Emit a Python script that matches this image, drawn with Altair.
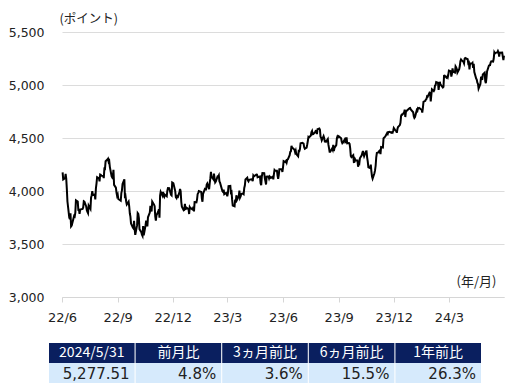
import altair as alt
import pandas as pd

# ---- daily closes ----
dates_2022 = [
    "2022-06-02","2022-06-03","2022-06-06","2022-06-07","2022-06-08","2022-06-09","2022-06-10","2022-06-13","2022-06-14","2022-06-15",
    "2022-06-16","2022-06-17","2022-06-21","2022-06-22","2022-06-23","2022-06-24","2022-06-27","2022-06-28","2022-06-29","2022-06-30",
    "2022-07-01","2022-07-05","2022-07-06","2022-07-07","2022-07-08","2022-07-11","2022-07-12","2022-07-13","2022-07-14","2022-07-15",
    "2022-07-18","2022-07-19","2022-07-20","2022-07-21","2022-07-22","2022-07-25","2022-07-26","2022-07-27","2022-07-28","2022-07-29",
    "2022-08-01","2022-08-02","2022-08-03","2022-08-04","2022-08-05","2022-08-08","2022-08-09","2022-08-10","2022-08-11","2022-08-12",
    "2022-08-15","2022-08-16","2022-08-17","2022-08-18","2022-08-19","2022-08-22","2022-08-23","2022-08-24","2022-08-25","2022-08-26",
    "2022-08-29","2022-08-30","2022-08-31","2022-09-01","2022-09-02","2022-09-06","2022-09-07","2022-09-08","2022-09-09","2022-09-12",
    "2022-09-13","2022-09-14","2022-09-15","2022-09-16","2022-09-19","2022-09-20","2022-09-21","2022-09-22","2022-09-23","2022-09-26",
    "2022-09-27","2022-09-28","2022-09-29","2022-09-30","2022-10-03","2022-10-04","2022-10-05","2022-10-06","2022-10-07","2022-10-10",
    "2022-10-11","2022-10-12","2022-10-13","2022-10-14","2022-10-17","2022-10-18","2022-10-19","2022-10-20","2022-10-21","2022-10-24",
    "2022-10-25","2022-10-26","2022-10-27","2022-10-28","2022-10-31","2022-11-01","2022-11-02","2022-11-03","2022-11-04","2022-11-07",
    "2022-11-08","2022-11-09","2022-11-10","2022-11-11","2022-11-14","2022-11-15","2022-11-16","2022-11-17","2022-11-18","2022-11-21",
    "2022-11-22","2022-11-23","2022-11-25","2022-11-28","2022-11-29","2022-11-30","2022-12-01","2022-12-02","2022-12-05","2022-12-06",
    "2022-12-07","2022-12-08","2022-12-09","2022-12-12","2022-12-13","2022-12-14","2022-12-15","2022-12-16","2022-12-19","2022-12-20",
    "2022-12-21","2022-12-22","2022-12-23","2022-12-27","2022-12-28","2022-12-29","2022-12-30",
]
closes_2022 = [
    4176, 4109, 4121, 4161, 4116, 4018, 3901, 3750, 3735, 3790,
    3667, 3675, 3765, 3760, 3796, 3912, 3900, 3821, 3819, 3785,
    3825, 3831, 3845, 3903, 3899, 3854, 3819, 3802, 3790, 3863,
    3831, 3937, 3960, 3999, 3962, 3967, 3921, 4024, 4072, 4130,
    4119, 4091, 4155, 4152, 4145, 4140, 4122, 4210, 4208, 4280,
    4297, 4305, 4275, 4284, 4228, 4138, 4128, 4141, 4199, 4058,
    4031, 3986, 3955, 3967, 3924, 3908, 3980, 4006, 4067, 4110,
    3932, 3946, 3901, 3873, 3900, 3856, 3790, 3758, 3693, 3655,
    3647, 3719, 3640, 3586, 3678, 3791, 3783, 3744, 3640, 3612,
    3589, 3577, 3670, 3583, 3677, 3720, 3695, 3666, 3752, 3797,
    3859, 3830, 3807, 3901, 3872, 3856, 3760, 3720, 3771, 3807,
    3828, 3749, 3956, 3993, 3957, 3992, 3959, 3946, 3965, 3950,
    4003, 4027, 4026, 3964, 3958, 4080, 4076, 4072, 3999, 3941,
    3933, 3963, 3934, 3991, 4019, 3996, 3896, 3852, 3818, 3822,
    3879, 3822, 3845, 3829, 3783, 3849, 3840,
]

dates_2023 = [
    "2023-01-03","2023-01-04","2023-01-05","2023-01-06","2023-01-09","2023-01-10","2023-01-11","2023-01-12","2023-01-13","2023-01-17",
    "2023-01-18","2023-01-19","2023-01-20","2023-01-23","2023-01-24","2023-01-25","2023-01-26","2023-01-27","2023-01-30","2023-01-31",
    "2023-02-01","2023-02-02","2023-02-03","2023-02-06","2023-02-07","2023-02-08","2023-02-09","2023-02-10","2023-02-13","2023-02-14",
    "2023-02-15","2023-02-16","2023-02-17","2023-02-21","2023-02-22","2023-02-23","2023-02-24","2023-02-27","2023-02-28","2023-03-01",
    "2023-03-02","2023-03-03","2023-03-06","2023-03-07","2023-03-08","2023-03-09","2023-03-10","2023-03-13","2023-03-14","2023-03-15",
    "2023-03-16","2023-03-17","2023-03-20","2023-03-21","2023-03-22","2023-03-23","2023-03-24","2023-03-27","2023-03-28","2023-03-29",
    "2023-03-30","2023-03-31","2023-04-03","2023-04-04","2023-04-05","2023-04-06","2023-04-10","2023-04-11","2023-04-12","2023-04-13",
    "2023-04-14","2023-04-17","2023-04-18","2023-04-19","2023-04-20","2023-04-21","2023-04-24","2023-04-25","2023-04-26","2023-04-27",
    "2023-04-28","2023-05-01","2023-05-02","2023-05-03","2023-05-04","2023-05-05","2023-05-08","2023-05-09","2023-05-10","2023-05-11",
    "2023-05-12","2023-05-15","2023-05-16","2023-05-17","2023-05-18","2023-05-19","2023-05-22","2023-05-23","2023-05-24","2023-05-25",
    "2023-05-26","2023-05-30","2023-05-31","2023-06-01","2023-06-02","2023-06-05","2023-06-06","2023-06-07","2023-06-08","2023-06-09",
    "2023-06-12","2023-06-13","2023-06-14","2023-06-15","2023-06-16","2023-06-20","2023-06-21","2023-06-22","2023-06-23","2023-06-26",
    "2023-06-27","2023-06-28","2023-06-29","2023-06-30","2023-07-03","2023-07-05","2023-07-06","2023-07-07","2023-07-10","2023-07-11",
    "2023-07-12","2023-07-13","2023-07-14","2023-07-17","2023-07-18","2023-07-19","2023-07-20","2023-07-21","2023-07-24","2023-07-25",
    "2023-07-26","2023-07-27","2023-07-28","2023-07-31","2023-08-01","2023-08-02","2023-08-03","2023-08-04","2023-08-07","2023-08-08",
    "2023-08-09","2023-08-10","2023-08-11","2023-08-14","2023-08-15","2023-08-16","2023-08-17","2023-08-18","2023-08-21","2023-08-22",
    "2023-08-23","2023-08-24","2023-08-25","2023-08-28","2023-08-29","2023-08-30","2023-08-31","2023-09-01","2023-09-05","2023-09-06",
    "2023-09-07","2023-09-08","2023-09-11","2023-09-12","2023-09-13","2023-09-14","2023-09-15","2023-09-18","2023-09-19","2023-09-20",
    "2023-09-21","2023-09-22","2023-09-25","2023-09-26","2023-09-27","2023-09-28","2023-09-29","2023-10-02","2023-10-03","2023-10-04",
    "2023-10-05","2023-10-06","2023-10-09","2023-10-10","2023-10-11","2023-10-12","2023-10-13","2023-10-16","2023-10-17","2023-10-18",
    "2023-10-19","2023-10-20","2023-10-23","2023-10-24","2023-10-25","2023-10-26","2023-10-27","2023-10-30","2023-10-31","2023-11-01",
    "2023-11-02","2023-11-03","2023-11-06","2023-11-07","2023-11-08","2023-11-09","2023-11-10","2023-11-13","2023-11-14","2023-11-15",
    "2023-11-16","2023-11-17","2023-11-20","2023-11-21","2023-11-22","2023-11-24","2023-11-27","2023-11-28","2023-11-29","2023-11-30",
    "2023-12-01","2023-12-04","2023-12-05","2023-12-06","2023-12-07","2023-12-08","2023-12-11","2023-12-12","2023-12-13","2023-12-14",
    "2023-12-15","2023-12-18","2023-12-19","2023-12-20","2023-12-21","2023-12-22","2023-12-26","2023-12-27","2023-12-28","2023-12-29",
]
closes_2023 = [
    3825, 3853, 3808, 3895, 3893, 3919, 3970, 3983, 3999, 3991,
    3929, 3899, 3972, 4020, 4017, 4016, 4060, 4071, 4018, 4077,
    4119, 4180, 4136, 4111, 4164, 4118, 4082, 4090, 4137, 4136,
    4148, 4090, 4079, 3997, 3991, 4012, 3970, 3982, 3970, 3951,
    3981, 4046, 4048, 3986, 3992, 3918, 3862, 3855, 3920, 3892,
    3960, 3917, 3951, 4003, 3937, 3949, 3971, 3977, 3971, 4028,
    4051, 4109, 4125, 4100, 4091, 4105, 4110, 4109, 4092, 4146,
    4138, 4151, 4155, 4154, 4130, 4133, 4137, 4072, 4056, 4136,
    4169, 4168, 4120, 4091, 4061, 4136, 4138, 4119, 4137, 4130,
    4124, 4136, 4110, 4159, 4198, 4192, 4192, 4146, 4115, 4151,
    4205, 4206, 4180, 4221, 4282, 4273, 4283, 4268, 4294, 4299,
    4338, 4369, 4373, 4426, 4410, 4389, 4366, 4381, 4348, 4328,
    4378, 4377, 4396, 4450, 4455, 4447, 4412, 4399, 4410, 4439,
    4472, 4510, 4505, 4523, 4555, 4566, 4535, 4536, 4555, 4567,
    4566, 4537, 4582, 4589, 4577, 4513, 4502, 4478, 4518, 4499,
    4468, 4469, 4464, 4490, 4437, 4404, 4370, 4370, 4400, 4388,
    4436, 4376, 4406, 4433, 4497, 4515, 4508, 4516, 4497, 4465,
    4451, 4457, 4487, 4462, 4467, 4505, 4450, 4453, 4444, 4402,
    4330, 4320, 4337, 4274, 4275, 4300, 4288, 4288, 4229, 4263,
    4258, 4308, 4336, 4358, 4377, 4350, 4328, 4373, 4374, 4315,
    4278, 4224, 4217, 4248, 4186, 4137, 4117, 4167, 4194, 4238,
    4318, 4358, 4366, 4378, 4383, 4347, 4415, 4411, 4496, 4502,
    4508, 4514, 4547, 4538, 4556, 4559, 4550, 4555, 4551, 4568,
    4595, 4569, 4567, 4549, 4585, 4604, 4622, 4644, 4707, 4720,
    4719, 4741, 4768, 4698, 4746, 4755, 4775, 4781, 4783, 4770,
]

dates_2024 = [
    "2024-01-02","2024-01-03","2024-01-04","2024-01-05","2024-01-08","2024-01-09","2024-01-10","2024-01-11","2024-01-12","2024-01-16",
    "2024-01-17","2024-01-18","2024-01-19","2024-01-22","2024-01-23","2024-01-24","2024-01-25","2024-01-26","2024-01-29","2024-01-30",
    "2024-01-31","2024-02-01","2024-02-02","2024-02-05","2024-02-06","2024-02-07","2024-02-08","2024-02-09","2024-02-12","2024-02-13",
    "2024-02-14","2024-02-15","2024-02-16","2024-02-20","2024-02-21","2024-02-22","2024-02-23","2024-02-26","2024-02-27","2024-02-28",
    "2024-02-29","2024-03-01","2024-03-04","2024-03-05","2024-03-06","2024-03-07","2024-03-08","2024-03-11","2024-03-12","2024-03-13",
    "2024-03-14","2024-03-15","2024-03-18","2024-03-19","2024-03-20","2024-03-21","2024-03-22","2024-03-25","2024-03-26","2024-03-27",
    "2024-03-28","2024-04-01","2024-04-02","2024-04-03","2024-04-04","2024-04-05","2024-04-08","2024-04-09","2024-04-10","2024-04-11",
    "2024-04-12","2024-04-15","2024-04-16","2024-04-17","2024-04-18","2024-04-19","2024-04-22","2024-04-23","2024-04-24","2024-04-25",
    "2024-04-26","2024-04-29","2024-04-30","2024-05-01","2024-05-02","2024-05-03","2024-05-06","2024-05-07","2024-05-08","2024-05-09",
    "2024-05-10","2024-05-13","2024-05-14","2024-05-15","2024-05-16","2024-05-17","2024-05-20","2024-05-21","2024-05-22","2024-05-23",
    "2024-05-24","2024-05-28","2024-05-29","2024-05-30","2024-05-31",
]
closes_2024 = [
    4743, 4705, 4689, 4697, 4764, 4757, 4783, 4780, 4784, 4766,
    4739, 4781, 4840, 4850, 4865, 4869, 4894, 4891, 4928, 4925,
    4846, 4906, 4959, 4943, 4954, 4995, 4998, 5027, 5022, 4953,
    5001, 5030, 5006, 4976, 4982, 5087, 5089, 5070, 5078, 5070,
    5096, 5137, 5131, 5079, 5105, 5157, 5124, 5117, 5175, 5165,
    5150, 5117, 5149, 5179, 5225, 5241, 5234, 5218, 5204, 5248,
    5254, 5243, 5205, 5211, 5147, 5204, 5202, 5209, 5161, 5199,
    5123, 5061, 5051, 5022, 5011, 4967, 5010, 5070, 5072, 5048,
    5100, 5116, 5036, 5018, 5064, 5128, 5181, 5187, 5188, 5214,
    5223, 5221, 5247, 5308, 5297, 5303, 5308, 5321, 5307, 5268,
    5305, 5306, 5267, 5235, 5277.51,
]

y_ticks = [3000, 3500, 4000, 4500, 5000, 5500]
x_tick_months = [(2022, 6), (2022, 9), (2022, 12), (2023, 3), (2023, 6), (2023, 9), (2023, 12), (2024, 3)]

table_headers = ["2024/5/31", "前月比", "3ヵ月前比", "6ヵ月前比", "1年前比"]
table_values = ["5,277.51", "4.8%", "3.6%", "15.5%", "26.3%"]

# ---- frames ----
df = pd.DataFrame({
    "date": dates_2022 + dates_2023 + dates_2024,
    "close": closes_2022 + closes_2023 + closes_2024,
})

rows = []
for i, (h, v) in enumerate(zip(table_headers, table_values)):
    rows.append({"col": i, "row": "h", "label": h})
    rows.append({"col": i, "row": "v", "label": v})
tdf = pd.DataFrame(rows)

FONT = "DejaVu Sans, Noto Sans CJK JP, sans-serif"
JFONT = "Noto Sans CJK JP, DejaVu Sans, sans-serif"

x_vals = [alt.DateTime(year=y, month=m, date=1, utc=True) for y, m in x_tick_months]

line = alt.Chart(df).mark_line(color="black", strokeWidth=2).encode(
    x=alt.X(
        "date:T",
        scale=alt.Scale(
            type="utc",
            domain=[alt.DateTime(year=2022, month=6, date=1, utc=True),
                    alt.DateTime(year=2024, month=5, date=31, utc=True)],
        ),
        axis=alt.Axis(
            values=x_vals, labelExpr="utcFormat(datum.value, '%y/%-m')",
            grid=False, tickSize=5, tickColor="#d6d6d6", domainColor="#d6d6d6",
            labelFontSize=13, labelColor="#222222", labelFont=FONT, labelPadding=9,
            labelFlush=False, labelOverlap=False,
            title="(年/月)", titleFont=JFONT, titleFontSize=13, titleFontWeight="normal",
            titleColor="#222222", titleAngle=0, titleAlign="right", titleBaseline="middle",
            titleX=434, titleY=-16,
        ),
    ),
    y=alt.Y(
        "close:Q",
        scale=alt.Scale(domain=[3000, 5500], nice=False, zero=False),
        axis=alt.Axis(
            values=y_ticks, format=",.0f", ticks=False, domain=False,
            grid=True, gridColor="#dcdcdc", gridWidth=1.2,
            labelFontSize=12.5, labelColor="#222222", labelFont=FONT, labelPadding=18,
            title="(ポイント)", titleFont=JFONT, titleFontSize=12.5, titleFontWeight="normal",
            titleColor="#222222", titleAngle=0, titleAlign="left", titleBaseline="middle",
            titleX=-3, titleY=-14,
        ),
    ),
)

xcol = alt.Scale(range=[-13, 419], paddingInner=0.012, paddingOuter=0)
yrow = alt.Scale(domain=["h", "v"], range=[311, 351], paddingInner=0, paddingOuter=0)

cells = alt.Chart(tdf).mark_rect().encode(
    x=alt.X("col:O", scale=xcol, axis=None),
    y=alt.Y("row:N", scale=yrow, axis=None),
    color=alt.Color("row:N", scale=alt.Scale(domain=["h", "v"], range=["#0a1f5f", "#d6eafc"]), legend=None),
)

head_text = alt.Chart(tdf).transform_filter(alt.datum.row == "h").mark_text(
    color="white", fontSize=14, font=JFONT, baseline="middle", align="center"
).encode(
    x=alt.X("col:O", scale=xcol, axis=None),
    y=alt.Y("row:N", scale=yrow, axis=None),
    text="label:N",
)

val_text = alt.Chart(tdf).transform_filter(alt.datum.row == "v").mark_text(
    color="#222222", fontSize=15, font=FONT, baseline="middle", align="right", dx=-5, dy=1
).encode(
    x=alt.X("col:O", scale=xcol, axis=None, bandPosition=1),
    y=alt.Y("row:N", scale=yrow, axis=None),
    text="label:N",
)

table = alt.layer(cells, head_text, val_text)

chart = alt.layer(line, table).resolve_scale(
    x="independent", y="independent", color="independent"
).properties(
    width=442,
    height=265,
    autosize=alt.AutoSizeParams(type="none"),
    padding={"left": 54, "top": 24, "right": 15, "bottom": 87},
    background="white",
).configure_view(stroke=None)

chart.save("out.html", embed_options={"renderer": "svg", "actions": False})
